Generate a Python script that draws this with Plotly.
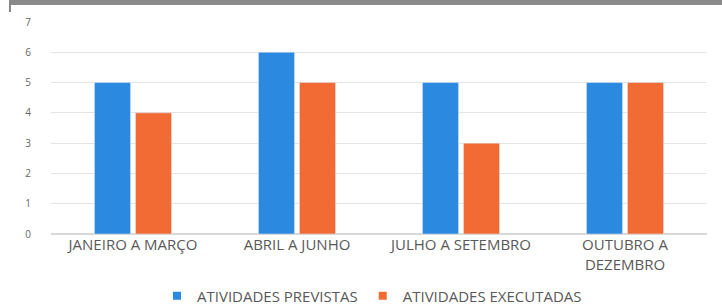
import plotly.graph_objects as go

categories = ["JANEIRO A MARÇO", "ABRIL A JUNHO", "JULHO A SETEMBRO", "OUTUBRO A<br>DEZEMBRO"]
previstas = [5, 6, 5, 5]
executadas = [4, 5, 3, 5]
series_names = ["ATIVIDADES PREVISTAS", "ATIVIDADES EXECUTADAS"]
y_ticks = [0, 1, 2, 3, 4, 5, 6, 7]
colors = ["#2b8ae0", "#f26b35"]

fig = go.Figure()
for name, vals, col in zip(series_names, [previstas, executadas], colors):
    fig.add_bar(x=categories, y=vals, name=name, marker_color=col, showlegend=False)
for name, col in zip(series_names, colors):
    fig.add_scatter(x=[None], y=[None], mode="markers", name=name,
                    marker=dict(symbol="square", size=8, color=col))

W, H = 722, 308
L, R, T, B = 51, 15, 22, 74
ph = H - T - B
pw = W - L - R

FONT = "Open Sans, Lato, sans-serif"
fig.update_layout(
    width=W, height=H,
    margin=dict(l=L, r=R, t=T, b=B, autoexpand=False),
    paper_bgcolor="white", plot_bgcolor="white",
    barmode="group", bargap=0.5, bargroupgap=0.12,
    font=dict(family=FONT, size=13, color="#595959"),
    legend=dict(orientation="h", x=(372 - L) / pw, xanchor="center",
                y=(T + ph - 296) / ph, yanchor="middle",
                font=dict(size=15, color="#595959"), itemwidth=30,
                traceorder="normal"),
    xaxis=dict(showgrid=False, showline=False, ticks="", automargin=False,
               tickfont=dict(size=15, color="#595959")),
    yaxis=dict(range=[0, 7], tickvals=y_ticks, showgrid=True, gridcolor="#e4e4e4",
               zeroline=True, zerolinecolor="#d9d9d9", showline=False, automargin=False,
               tickfont=dict(size=10, color="#666666"), ticklabelstandoff=19),
    shapes=[
        dict(type="rect", xref="paper", yref="paper",
             x0=(10 - L) / pw, x1=(W - L) / pw,
             y0=(T + ph - 5) / ph, y1=(T + ph + 2) / ph,
             fillcolor="#8a8a8a", line=dict(width=0), layer="above"),
        dict(type="line", xref="paper", yref="paper",
             x0=(10 - L) / pw, x1=(10 - L) / pw,
             y0=(T + ph - 12) / ph, y1=(T + ph) / ph,
             line=dict(color="#8a8a8a", width=2)),
    ],
)

fig.write_html("out.html", config={"displayModeBar": False},
               post_script="document.body.style.margin='0';document.body.style.overflow='hidden';")
